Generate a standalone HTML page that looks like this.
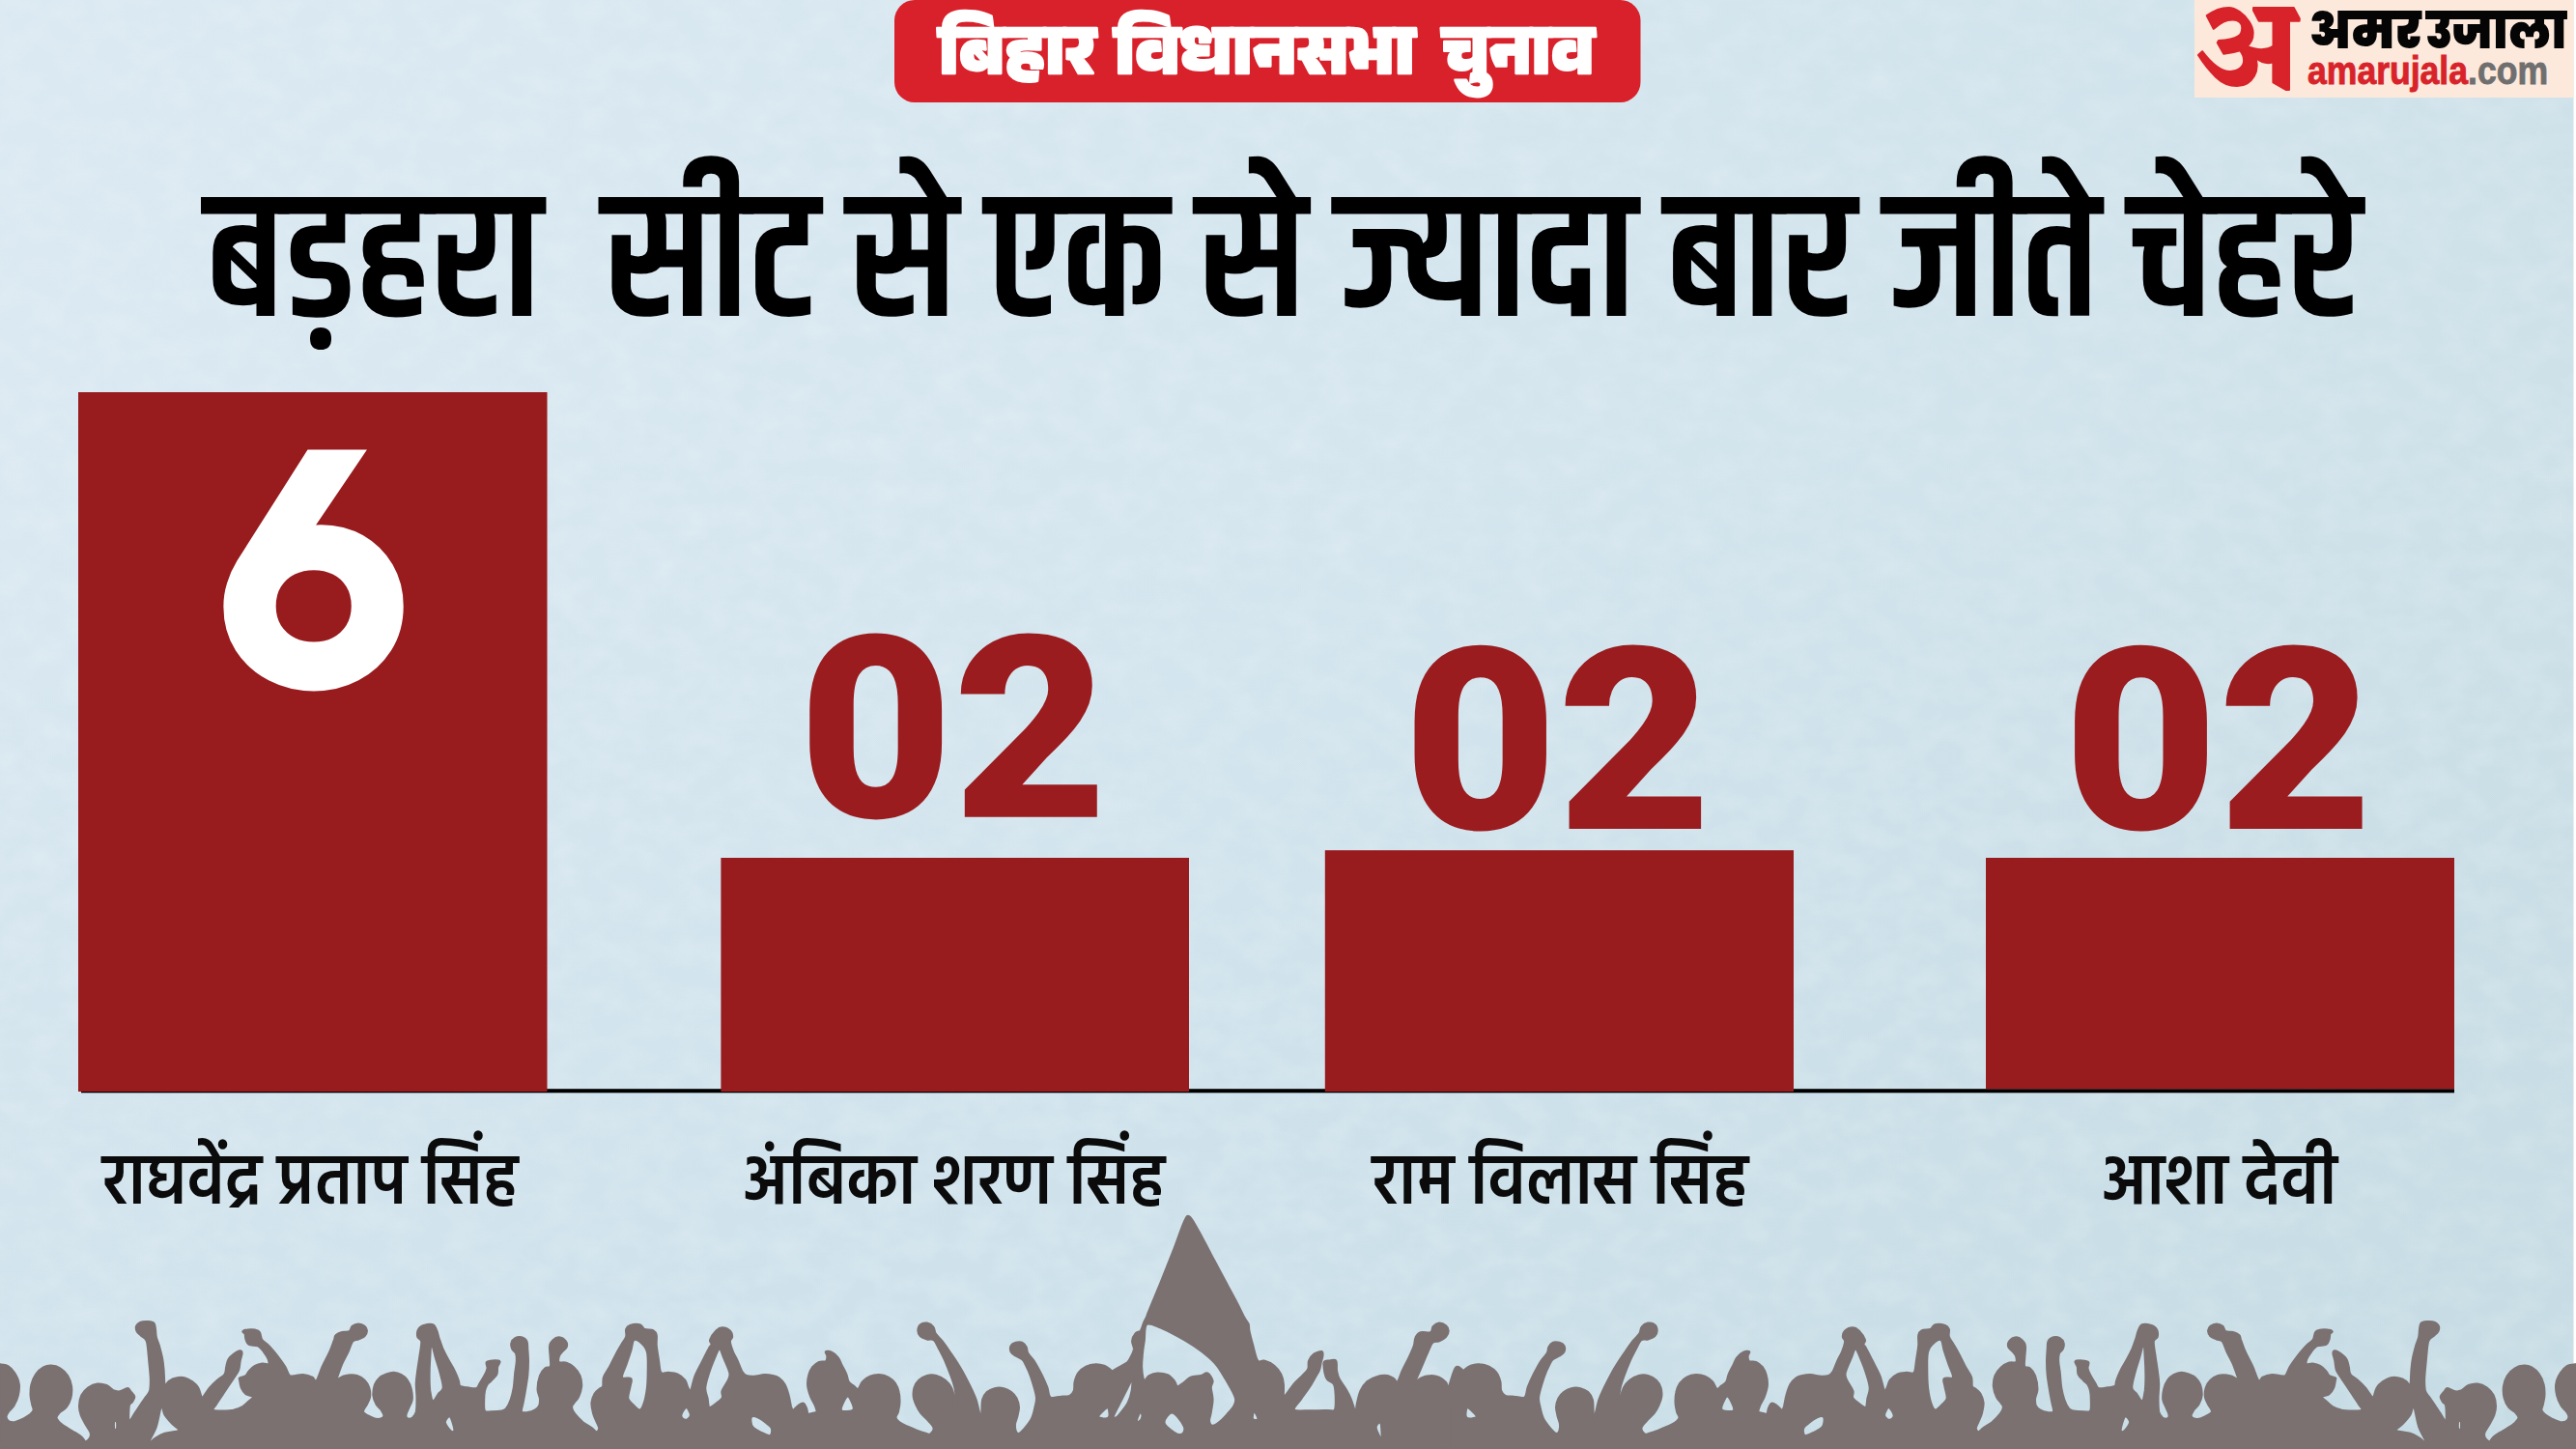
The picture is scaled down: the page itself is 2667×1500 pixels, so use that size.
<!DOCTYPE html>
<html lang="hi">
<head>
<meta charset="utf-8">
<title>बिहार विधानसभा चुनाव</title>
<style>
html,body{margin:0;padding:0;background:#d6e6ef;}
body{width:2667px;height:1500px;overflow:hidden;position:relative;}
svg{display:block;position:absolute;left:0;top:0;}
.dv-title{font-family:"Khand","Teko","Rajdhani","Noto Sans Devanagari","Lohit Devanagari","FreeSans","Liberation Sans","DejaVu Sans",sans-serif;font-weight:600;}
.dv-label{font-family:"Hind","Mukta","Ek Mukta","Noto Sans Devanagari","Lohit Devanagari","FreeSans","Liberation Sans","DejaVu Sans",sans-serif;font-weight:600;}
.dv-pill{font-family:"Anek Devanagari","Baloo 2","Mukta","Noto Sans Devanagari","Lohit Devanagari","FreeSans","Liberation Sans","DejaVu Sans",sans-serif;font-weight:800;font-stretch:75%;}
.dv-logo{font-family:"Poppins","Noto Sans Devanagari","Mukta","Noto Sans Devanagari","Lohit Devanagari","FreeSans","Liberation Sans","DejaVu Sans",sans-serif;font-weight:900;}
.dv-a{font-family:"Martel","Noto Serif Devanagari","Eczar","Noto Sans Devanagari","Lohit Devanagari","FreeSerif","Liberation Serif","DejaVu Serif",serif;font-weight:900;}
.lat{font-family:"Liberation Sans","DejaVu Sans",sans-serif;font-weight:700;}
.num{font-family:"Roboto","Liberation Sans","DejaVu Sans",sans-serif;font-weight:900;}
.six{font-family:"Hanken Grotesk","Albert Sans","Outfit","League Spartan","Liberation Sans","DejaVu Sans",sans-serif;font-weight:900;}
</style>
</head>
<body>
<svg width="2667" height="1500" viewBox="0 0 2667 1500">
<defs>
<linearGradient id="bg" gradientUnits="userSpaceOnUse" x1="0" y1="0" x2="2667" y2="900">
<stop offset="0" stop-color="#dbe9f2"/>
<stop offset="0.5" stop-color="#d5e6ef"/>
<stop offset="1" stop-color="#cde0e8"/>
</linearGradient>
<linearGradient id="bgv" gradientUnits="userSpaceOnUse" x1="0" y1="450" x2="0" y2="1500">
<stop offset="0" stop-color="#96becd" stop-opacity="0"/>
<stop offset="1" stop-color="#96becd" stop-opacity="0.125"/>
</linearGradient>
<filter id="paper" x="0" y="0" width="100%" height="100%" filterUnits="objectBoundingBox" color-interpolation-filters="sRGB">
<feTurbulence type="fractalNoise" baseFrequency="0.03 0.04" numOctaves="3" seed="7" result="n"/>
<feColorMatrix in="n" type="matrix" values="0 0 0 0 1  0 0 0 0 1  0 0 0 0 1  1.2 0 0 0 -0.42"/>
</filter>
</defs>
<!-- background -->
<rect x="0" y="0" width="2667" height="1500" fill="url(#bg)"/>
<rect x="0" y="0" width="2667" height="1500" fill="url(#bgv)"/>
<rect x="0" y="0" width="2667" height="1500" filter="url(#paper)" opacity="0.25"/>
<rect x="2664.5" y="0" width="2.5" height="1500" fill="#ffffff"/>

<!-- header pill -->
<g id="pill">
<rect x="926" y="0" width="772.5" height="106" rx="21" ry="21" fill="#d9212b"/>
<text class="dv-pill" x="972" y="75.5" font-size="73" fill="#ffffff" stroke="#ffffff" stroke-width="2.6" stroke-linejoin="round" textLength="162" lengthAdjust="spacingAndGlyphs">बिहार</text>
<text class="dv-pill" x="1154" y="75.5" font-size="73" fill="#ffffff" stroke="#ffffff" stroke-width="2.6" stroke-linejoin="round" textLength="311" lengthAdjust="spacingAndGlyphs">विधानसभा</text>
<text class="dv-pill" x="1493.5" y="75.5" font-size="73" fill="#ffffff" stroke="#ffffff" stroke-width="2.6" stroke-linejoin="round" textLength="157" lengthAdjust="spacingAndGlyphs">चुनाव</text>
</g>

<!-- logo -->
<g id="logo">
<rect x="2272" y="0" width="392.5" height="101" fill="#fde9dc"/>
<text class="dv-a" x="2274.2" y="87.9" font-size="119" fill="#d8232a" stroke="#d8232a" stroke-width="2.2" stroke-linejoin="round" textLength="106.4" lengthAdjust="spacingAndGlyphs">अ</text>
<text class="dv-logo" x="2390.6" y="49.9" font-size="52" fill="#050505" textLength="116.4" lengthAdjust="spacingAndGlyphs">अमर</text>
<text class="dv-logo" x="2511.5" y="49.9" font-size="52" fill="#050505" textLength="146" lengthAdjust="spacingAndGlyphs">उजाला</text>
<text class="lat" x="2389" y="87" font-size="40" fill="#d8232a" stroke="#d8232a" stroke-width="0.9" textLength="166" lengthAdjust="spacingAndGlyphs">amarujala</text>
<text class="lat" x="2555" y="87" font-size="40" fill="#6f6f6f" stroke="#6f6f6f" stroke-width="0.9" textLength="83" lengthAdjust="spacingAndGlyphs">.com</text>
</g>

<!-- title -->
<text id="title" class="dv-title" x="214" y="326.7" font-size="185" fill="#000000" textLength="2229" lengthAdjust="spacingAndGlyphs" xml:space="preserve">बड़हरा  सीट से एक से ज्यादा बार जीते चेहरे</text>

<!-- chart -->
<g id="chart">
<rect x="84" y="1127.2" width="2457" height="4.1" fill="#000000"/>
<rect x="81" y="406" width="485.5" height="724" fill="#981b1e"/>
<rect x="746.4" y="888" width="484.6" height="242" fill="#981b1e"/>
<rect x="1371.8" y="880.2" width="485.2" height="249.8" fill="#981b1e"/>
<rect x="2056" y="888" width="485" height="239.3" fill="#981b1e"/>
<text class="six" x="225.7" y="711.6" font-size="353" fill="#ffffff">6</text>
<text class="num" x="826.7" y="845.8" font-size="264" fill="#9a1c1f" textLength="320" lengthAdjust="spacingAndGlyphs">02</text>
<text class="num" x="1453" y="858" font-size="264" fill="#9a1c1f" textLength="319" lengthAdjust="spacingAndGlyphs">02</text>
<text class="num" x="2136.5" y="858" font-size="264" fill="#9a1c1f" textLength="320" lengthAdjust="spacingAndGlyphs">02</text>
</g>

<!-- labels -->
<g id="labels" fill="#0b0b0b">
<text class="dv-label" x="106.2" y="1245.8" font-size="74" textLength="429.8" lengthAdjust="spacingAndGlyphs">राघवेंद्र प्रताप सिंह</text>
<text class="dv-label" x="769.8" y="1245.8" font-size="74" textLength="436" lengthAdjust="spacingAndGlyphs">अंबिका शरण सिंह</text>
<text class="dv-label" x="1421" y="1245.8" font-size="74" textLength="388.6" lengthAdjust="spacingAndGlyphs">राम विलास सिंह</text>
<text class="dv-label" x="2176.6" y="1245.8" font-size="74" textLength="243" lengthAdjust="spacingAndGlyphs">आशा देवी</text>
</g>

<!-- crowd -->
<g id="crowd" fill="#7b7171" stroke="#7b7171" stroke-width="2.6" stroke-linejoin="round">
<path fill-rule="evenodd" d="M0.0 1412.6C1.3 1412.8 5.3 1412.7 7.8 1414.1C10.2 1415.6 12.8 1418.1 14.8 1421.1C16.7 1424.1 18.8 1428.1 19.4 1432.0C20.1 1435.9 19.5 1440.5 18.6 1444.4C17.7 1448.3 15.7 1452.4 14.0 1455.3C12.3 1458.1 9.8 1459.5 8.5 1461.5C7.2 1463.4 6.1 1465.2 6.2 1466.9C6.3 1468.6 7.8 1470.7 9.3 1471.6C10.9 1472.5 13.2 1472.7 15.5 1472.4C17.9 1472.0 20.7 1470.5 23.3 1469.3C25.9 1468.0 29.1 1466.1 31.1 1464.6C33.0 1463.0 34.5 1461.7 34.9 1459.9C35.3 1458.1 33.9 1456.3 33.4 1453.7C32.9 1451.1 32.0 1447.8 31.8 1444.4C31.7 1441.0 31.7 1437.2 32.6 1433.5C33.5 1429.9 35.2 1425.6 37.3 1422.7C39.3 1419.7 42.4 1417.2 45.0 1415.7C47.6 1414.2 49.9 1413.7 52.8 1413.8C55.6 1413.9 59.3 1414.7 62.1 1416.5C65.0 1418.2 67.9 1421.1 69.9 1424.2C71.8 1427.3 73.2 1431.2 73.8 1435.1C74.3 1439.0 73.9 1443.9 73.0 1447.5C72.1 1451.1 70.3 1454.4 68.3 1456.8C66.4 1459.3 63.0 1460.5 61.3 1462.3C59.7 1464.1 58.1 1465.9 58.2 1467.7C58.4 1469.5 60.2 1471.3 62.1 1473.1C64.1 1474.9 67.3 1476.9 69.9 1478.6C72.5 1480.3 75.2 1481.7 77.6 1483.2C80.1 1484.8 82.8 1486.3 84.6 1487.9C86.4 1489.4 87.1 1492.4 88.5 1492.5C89.9 1492.7 92.3 1490.2 93.2 1488.7C94.1 1487.1 94.7 1485.7 93.9 1483.2C93.2 1480.8 90.2 1477.0 88.5 1473.9C86.8 1470.8 84.9 1467.7 83.9 1464.6C82.8 1461.5 82.2 1458.6 82.3 1455.3C82.4 1451.9 83.1 1447.5 84.6 1444.4C86.2 1441.3 88.9 1438.6 91.6 1436.6C94.3 1434.7 97.8 1433.2 100.9 1432.8C104.0 1432.4 107.4 1433.2 110.2 1434.3C113.1 1435.5 115.7 1438.7 118.0 1439.8C120.3 1440.8 121.9 1440.9 124.2 1440.5C126.6 1440.1 130.2 1437.4 132.0 1437.4C133.8 1437.4 133.9 1439.1 135.1 1440.5C136.3 1442.0 138.7 1444.2 139.0 1446.0C139.2 1447.8 137.6 1449.8 136.6 1451.4C135.7 1453.0 134.1 1451.9 133.5 1455.3C133.0 1458.6 132.5 1470.3 133.5 1471.6C134.6 1472.9 137.7 1466.0 139.8 1463.0C141.8 1460.1 144.0 1456.6 146.0 1453.7C147.9 1450.9 149.8 1448.3 151.4 1446.0C153.0 1443.6 154.5 1442.9 155.3 1439.8C156.1 1436.6 156.2 1432.5 156.1 1427.3C155.9 1422.2 155.0 1414.4 154.5 1408.7C154.0 1403.0 153.5 1396.8 153.0 1393.2C152.4 1389.5 152.6 1388.8 151.4 1387.0C150.2 1385.1 147.5 1383.7 146.0 1382.3C144.4 1380.9 142.9 1380.0 142.1 1378.4C141.3 1376.9 140.8 1374.5 141.3 1373.0C141.8 1371.4 143.2 1369.9 145.2 1369.1C147.1 1368.3 150.6 1368.2 153.0 1368.3C155.3 1368.5 157.9 1368.6 159.2 1369.9C160.5 1371.2 160.3 1373.8 160.7 1376.1C161.1 1378.4 160.8 1381.0 161.5 1383.9C162.1 1386.7 163.6 1389.5 164.6 1393.2C165.6 1396.8 166.9 1401.4 167.7 1405.6C168.5 1409.7 168.9 1413.6 169.3 1418.0C169.6 1422.4 169.8 1429.1 170.0 1432.0C170.3 1434.8 169.9 1435.5 170.8 1435.1C171.7 1434.7 173.4 1431.1 175.5 1429.7C177.5 1428.2 180.6 1427.1 183.2 1426.6C185.8 1426.0 188.4 1425.9 191.0 1426.6C193.6 1427.2 196.4 1428.8 198.8 1430.4C201.1 1432.1 203.4 1434.1 205.0 1436.6C206.5 1439.2 207.4 1444.0 208.1 1446.0C208.7 1447.9 207.3 1449.8 208.9 1448.3C210.4 1446.7 214.7 1439.9 217.4 1436.6C220.1 1433.4 222.6 1431.2 225.2 1428.9C227.7 1426.6 231.4 1425.0 232.9 1422.7C234.5 1420.3 233.8 1417.5 234.5 1414.9C235.1 1412.3 235.5 1409.3 236.8 1407.1C238.1 1404.9 240.3 1403.1 242.2 1401.7C244.2 1400.3 247.1 1398.7 248.4 1398.6C249.8 1398.5 250.3 1399.2 250.3 1400.9C250.3 1402.6 249.0 1405.8 248.4 1408.7C247.9 1411.5 247.9 1415.2 246.9 1418.0C245.9 1420.9 244.0 1422.9 242.2 1425.8C240.4 1428.6 238.1 1432.0 236.0 1435.1C234.0 1438.2 231.9 1441.3 229.8 1444.4C227.7 1447.5 225.2 1451.1 223.6 1453.7C222.0 1456.3 219.5 1458.8 220.5 1459.9C221.5 1461.1 226.2 1460.7 229.8 1460.7C233.4 1460.7 238.6 1460.7 242.2 1459.9C245.9 1459.2 249.0 1457.6 251.6 1456.1C254.1 1454.5 256.0 1452.3 257.8 1450.6C259.6 1448.9 262.9 1447.3 262.4 1446.0C261.9 1444.7 256.7 1444.4 254.7 1442.9C252.6 1441.3 251.0 1439.0 250.0 1436.6C249.0 1434.3 248.7 1430.6 248.4 1428.9C248.2 1427.2 247.4 1427.3 248.4 1426.6C249.5 1425.8 253.1 1425.4 254.7 1424.2C256.2 1423.1 256.2 1421.2 257.8 1419.6C259.3 1417.9 261.6 1415.4 264.0 1414.1C266.3 1412.8 269.4 1412.1 271.7 1411.8C274.1 1411.5 276.9 1413.4 278.0 1412.6C279.0 1411.8 278.7 1409.3 278.0 1407.1C277.2 1404.9 275.1 1401.7 273.3 1399.4C271.5 1397.0 269.7 1394.5 267.1 1393.2C264.5 1391.9 259.8 1392.8 257.8 1391.6C255.7 1390.5 255.3 1388.0 254.7 1386.2C254.0 1384.4 254.4 1382.0 253.9 1380.7C253.4 1379.5 251.2 1379.1 251.6 1378.4C251.9 1377.8 254.1 1377.1 256.2 1376.9C258.3 1376.6 261.9 1376.5 264.0 1376.9C266.0 1377.3 267.5 1377.5 268.6 1379.2C269.8 1380.9 269.4 1384.6 271.0 1387.0C272.5 1389.3 275.2 1390.3 278.0 1393.2C280.7 1396.0 284.4 1400.4 287.3 1404.0C290.1 1407.7 293.0 1411.5 295.0 1414.9C297.1 1418.3 297.9 1422.7 299.7 1424.2C301.5 1425.8 303.6 1424.4 305.9 1424.2C308.2 1424.1 310.8 1423.2 313.7 1423.4C316.5 1423.7 320.7 1424.7 323.0 1425.8C325.3 1426.8 325.8 1431.5 327.6 1429.7C329.5 1427.8 331.5 1420.0 333.9 1414.9C336.2 1409.9 339.5 1404.0 341.6 1399.4C343.7 1394.7 345.2 1389.8 346.3 1387.0C347.3 1384.1 346.5 1383.6 347.8 1382.3C349.1 1381.0 351.7 1379.8 354.0 1379.2C356.4 1378.5 360.0 1379.5 361.8 1378.4C363.6 1377.4 363.4 1374.3 364.9 1373.0C366.5 1371.7 369.0 1370.7 371.1 1370.7C373.2 1370.7 375.9 1371.8 377.3 1373.0C378.8 1374.1 379.7 1376.0 379.7 1377.6C379.7 1379.3 378.8 1381.7 377.3 1383.1C375.9 1384.5 373.2 1385.3 371.1 1386.2C369.0 1387.1 366.7 1386.3 364.9 1388.5C363.1 1390.7 362.1 1395.5 360.2 1399.4C358.4 1403.3 355.8 1407.7 354.0 1411.8C352.2 1415.9 350.8 1420.6 349.4 1424.2C348.0 1427.8 345.2 1433.0 345.5 1433.5C345.8 1434.1 348.5 1429.0 350.9 1427.3C353.4 1425.7 357.1 1424.3 360.2 1423.8C363.4 1423.2 366.7 1423.4 369.6 1424.2C372.4 1425.1 375.3 1426.8 377.3 1428.9C379.4 1431.0 381.1 1433.8 382.0 1436.6C382.9 1439.5 383.2 1443.1 382.8 1446.0C382.4 1448.8 380.8 1451.1 379.7 1453.7C378.5 1456.3 375.1 1459.3 375.8 1461.5C376.4 1463.7 381.0 1465.6 383.5 1466.9C386.1 1468.2 389.0 1469.4 391.3 1469.3C393.6 1469.1 396.9 1467.7 397.5 1466.1C398.2 1464.6 396.5 1462.0 395.2 1459.9C393.9 1457.9 391.2 1456.3 389.8 1453.7C388.3 1451.1 386.9 1447.8 386.6 1444.4C386.4 1441.0 387.2 1436.5 388.2 1433.5C389.2 1430.6 390.9 1428.4 392.9 1426.6C394.8 1424.7 397.5 1423.6 400.0 1422.7C402.5 1421.8 405.2 1421.0 407.8 1421.1C410.4 1421.2 413.2 1422.2 415.5 1423.4C417.9 1424.7 420.1 1426.4 421.7 1428.9C423.4 1431.3 424.8 1434.8 425.6 1438.2C426.4 1441.6 426.8 1446.0 426.4 1449.1C426.0 1452.2 424.3 1454.2 423.3 1456.8C422.3 1459.4 420.4 1462.7 420.2 1464.6C419.9 1466.5 420.6 1468.0 421.7 1468.5C422.9 1469.0 425.6 1468.9 427.2 1467.7C428.7 1466.5 430.3 1464.9 431.1 1461.5C431.8 1458.1 431.8 1452.4 431.8 1447.5C431.8 1442.6 430.9 1436.9 431.1 1432.0C431.2 1427.1 432.0 1422.9 432.6 1418.0C433.3 1413.1 434.3 1407.4 434.9 1402.5C435.6 1397.6 436.9 1391.6 436.5 1388.5C436.1 1385.4 433.1 1385.9 432.6 1383.9C432.1 1381.8 432.3 1378.0 433.4 1376.1C434.4 1374.1 436.4 1373.0 438.8 1372.2C441.3 1371.4 445.9 1370.5 448.1 1371.4C450.3 1372.3 451.0 1375.3 452.0 1377.6C453.1 1380.0 453.3 1382.3 454.3 1385.4C455.4 1388.5 456.7 1392.7 458.2 1396.3C459.8 1399.9 461.7 1403.5 463.7 1407.1C465.6 1410.8 468.1 1414.4 469.9 1418.0C471.7 1421.6 473.5 1426.0 474.5 1428.9C475.6 1431.7 474.5 1433.8 476.1 1435.1C477.6 1436.4 481.0 1436.3 483.9 1436.6C486.7 1437.0 491.0 1438.2 493.2 1437.4C495.4 1436.6 495.5 1434.4 497.0 1432.0C498.6 1429.5 501.2 1425.3 502.5 1422.7C503.8 1420.1 504.6 1418.5 504.8 1416.5C505.1 1414.4 503.1 1411.5 504.0 1410.2C504.9 1409.0 508.0 1408.8 510.2 1408.7C512.4 1408.6 516.5 1408.4 517.2 1409.5C518.0 1410.5 515.4 1412.7 514.9 1414.9C514.4 1417.1 515.2 1420.3 514.1 1422.7C513.1 1425.0 510.4 1427.1 508.7 1428.9C507.0 1430.7 505.2 1431.7 504.0 1433.5C502.9 1435.4 502.2 1437.2 501.7 1439.8C501.2 1442.3 500.9 1445.6 500.9 1449.1C500.9 1452.6 500.4 1458.6 501.7 1460.7C503.0 1462.8 505.7 1461.5 508.7 1461.5C511.7 1461.5 517.0 1461.2 519.6 1460.7C522.2 1460.2 522.7 1460.3 524.2 1458.4C525.8 1456.4 527.6 1452.7 528.9 1449.1C530.2 1445.4 531.2 1441.3 532.0 1436.6C532.8 1432.0 533.0 1425.8 533.5 1421.1C534.1 1416.5 535.0 1412.1 535.1 1408.7C535.2 1405.3 535.1 1403.0 534.3 1400.9C533.5 1398.9 531.2 1398.1 530.4 1396.3C529.7 1394.5 529.1 1391.9 529.7 1390.1C530.2 1388.3 531.9 1386.3 533.5 1385.4C535.2 1384.5 537.8 1384.1 539.8 1384.6C541.7 1385.1 544.2 1386.6 545.2 1388.5C546.2 1390.5 545.7 1392.9 546.0 1396.3C546.2 1399.6 546.7 1404.0 546.7 1408.7C546.7 1413.4 546.5 1419.0 546.0 1424.2C545.4 1429.4 544.4 1435.1 543.6 1439.8C542.9 1444.4 542.0 1448.6 541.3 1452.2C540.7 1455.8 539.0 1459.8 539.8 1461.5C540.5 1463.2 543.6 1462.5 546.0 1462.3C548.3 1462.0 551.7 1461.1 553.7 1459.9C555.8 1458.8 557.5 1457.3 558.4 1455.3C559.3 1453.2 559.4 1450.4 559.2 1447.5C558.9 1444.7 556.8 1442.1 556.8 1438.2C556.8 1434.3 557.9 1427.8 559.2 1424.2C560.5 1420.6 562.8 1418.0 564.6 1416.5C566.4 1414.9 569.1 1416.7 570.0 1414.9C570.9 1413.1 570.2 1409.2 570.0 1405.6C569.9 1402.0 568.9 1396.1 569.3 1393.2C569.6 1390.2 570.8 1389.2 572.4 1387.7C573.9 1386.3 576.4 1384.5 578.6 1384.6C580.8 1384.8 584.3 1386.8 585.6 1388.5C586.9 1390.2 587.0 1392.9 586.3 1394.7C585.7 1396.5 583.0 1397.8 581.7 1399.4C580.4 1400.9 579.1 1402.2 578.6 1404.0C578.1 1405.8 577.3 1409.1 578.6 1410.2C579.9 1411.4 583.7 1410.1 586.3 1411.0C588.9 1411.9 591.8 1413.5 594.1 1415.7C596.4 1417.9 599.0 1421.0 600.3 1424.2C601.6 1427.5 602.1 1431.5 601.9 1435.1C601.6 1438.7 600.1 1443.1 598.8 1446.0C597.5 1448.8 595.3 1450.4 594.1 1452.2C592.9 1454.0 591.5 1454.8 591.8 1456.8C592.0 1458.9 593.7 1462.0 595.7 1464.6C597.6 1467.2 600.6 1470.0 603.4 1472.4C606.3 1474.7 610.4 1476.9 612.7 1478.6C615.1 1480.3 616.1 1482.5 617.4 1482.5C618.7 1482.5 620.5 1480.5 620.5 1478.6C620.5 1476.6 618.4 1473.4 617.4 1470.8C616.4 1468.2 615.1 1466.1 614.3 1463.0C613.5 1459.9 612.5 1455.5 612.7 1452.2C613.0 1448.8 614.5 1445.2 615.8 1442.9C617.1 1440.5 619.1 1439.5 620.5 1438.2C621.9 1436.9 623.6 1437.2 624.4 1435.1C625.2 1433.0 624.0 1429.1 625.2 1425.8C626.3 1422.4 629.3 1418.8 631.4 1414.9C633.4 1411.0 635.5 1406.4 637.6 1402.5C639.6 1398.6 642.0 1394.7 643.8 1391.6C645.6 1388.5 647.7 1386.4 648.4 1383.9C649.2 1381.3 647.8 1378.0 648.4 1376.1C649.1 1374.1 650.0 1373.0 652.3 1372.2C654.7 1371.4 660.0 1370.8 662.4 1371.4C664.9 1372.1 664.8 1375.1 667.1 1376.1C669.4 1377.1 674.3 1376.6 676.4 1377.6C678.5 1378.7 679.0 1379.7 679.5 1382.3C680.0 1384.9 679.1 1388.8 679.5 1393.2C679.9 1397.6 681.1 1404.0 681.8 1408.7C682.6 1413.4 682.5 1419.0 684.2 1421.1C685.8 1423.2 689.1 1420.9 691.9 1421.1C694.8 1421.4 698.4 1421.4 701.2 1422.7C704.1 1424.0 707.2 1426.6 709.0 1428.9C710.8 1431.2 711.1 1434.8 712.1 1436.6C713.1 1438.5 713.9 1441.8 715.2 1439.8C716.5 1437.7 717.8 1429.4 719.9 1424.2C721.9 1419.0 725.3 1413.4 727.6 1408.7C730.0 1404.0 732.3 1399.1 733.9 1396.3C735.4 1393.4 736.7 1393.2 737.0 1391.6C737.2 1390.1 734.6 1389.3 735.4 1387.0C736.2 1384.6 739.5 1379.7 741.6 1377.6C743.7 1375.6 745.5 1374.5 747.8 1374.5C750.2 1374.5 753.9 1376.1 755.6 1377.6C757.3 1379.2 757.9 1382.0 757.9 1383.9C757.9 1385.7 755.5 1385.9 755.6 1388.5C755.7 1391.1 757.4 1396.0 758.7 1399.4C760.0 1402.7 761.8 1405.3 763.4 1408.7C764.9 1412.1 766.5 1417.0 768.0 1419.6C769.6 1422.2 770.6 1423.3 772.7 1424.2C774.7 1425.1 777.3 1425.1 780.4 1425.0C783.5 1424.9 788.0 1423.6 791.3 1423.4C794.6 1423.3 797.5 1423.7 800.0 1424.2C802.5 1424.7 804.1 1425.0 806.2 1426.6C808.3 1428.1 810.7 1430.6 812.4 1433.5C814.1 1436.5 815.3 1440.8 816.3 1444.4C817.3 1448.0 817.9 1452.7 818.6 1455.3C819.4 1457.9 819.7 1459.9 821.0 1459.9C822.3 1459.9 824.6 1456.4 826.4 1455.3C828.2 1454.1 830.4 1452.4 831.8 1453.0C833.3 1453.5 834.2 1456.6 834.9 1458.4C835.7 1460.2 835.3 1463.0 836.5 1463.8C837.7 1464.6 840.4 1463.4 841.9 1463.0C843.5 1462.7 845.4 1462.8 845.8 1461.5C846.2 1460.2 845.3 1457.9 844.3 1455.3C843.2 1452.7 840.9 1449.3 839.6 1446.0C838.3 1442.6 836.9 1438.7 836.5 1435.1C836.1 1431.5 836.5 1427.5 837.3 1424.2C838.0 1421.0 839.3 1418.0 841.1 1415.7C843.0 1413.4 845.8 1411.3 848.1 1410.2C850.5 1409.2 853.7 1410.5 855.1 1409.5C856.5 1408.4 856.7 1405.7 856.7 1404.0C856.7 1402.4 854.3 1400.0 855.1 1399.4C855.9 1398.7 859.3 1399.1 861.3 1400.2C863.4 1401.2 865.9 1403.4 867.5 1405.6C869.2 1407.8 870.0 1410.5 871.4 1413.4C872.9 1416.2 874.9 1419.8 876.1 1422.7C877.3 1425.5 877.1 1428.4 878.4 1430.4C879.7 1432.5 882.2 1433.8 883.9 1435.1C885.5 1436.4 887.0 1439.0 888.5 1438.2C890.1 1437.4 891.1 1432.6 893.2 1430.4C895.2 1428.2 898.1 1426.2 900.9 1425.0C903.8 1423.8 907.1 1423.3 910.2 1423.4C913.4 1423.6 916.8 1424.4 919.6 1425.8C922.3 1427.2 924.7 1429.4 926.6 1432.0C928.4 1434.6 929.7 1437.9 930.4 1441.3C931.2 1444.7 931.3 1448.8 931.2 1452.2C931.1 1455.5 930.3 1458.9 929.7 1461.5C929.0 1464.1 926.9 1465.8 927.3 1467.7C927.7 1469.6 929.9 1471.6 932.0 1473.1C934.1 1474.7 936.9 1475.7 939.8 1477.0C942.6 1478.3 946.0 1479.7 949.1 1480.9C952.2 1482.1 956.1 1483.4 958.4 1484.0C960.7 1484.7 961.6 1485.7 963.0 1484.8C964.5 1483.9 967.2 1480.9 966.9 1478.6C966.7 1476.2 963.7 1473.4 961.5 1470.8C959.3 1468.2 955.8 1465.6 953.7 1463.0C951.7 1460.5 950.4 1458.1 949.1 1455.3C947.8 1452.4 946.4 1449.1 946.0 1446.0C945.6 1442.9 945.8 1439.5 946.7 1436.6C947.6 1433.8 949.2 1431.0 951.4 1428.9C953.6 1426.8 957.0 1425.0 959.9 1424.2C962.9 1423.4 966.1 1423.4 969.3 1424.2C972.4 1425.0 976.0 1426.8 978.6 1428.9C981.2 1431.0 983.2 1433.5 984.8 1436.6C986.3 1439.8 987.2 1443.6 987.9 1447.5C988.5 1451.4 988.3 1457.6 988.7 1459.9C989.1 1462.3 990.0 1463.3 990.2 1461.5C990.5 1459.7 990.5 1453.2 990.2 1449.1C990.0 1444.9 989.6 1440.8 988.7 1436.6C987.8 1432.5 986.5 1428.9 984.8 1424.2C983.1 1419.6 980.6 1413.4 978.6 1408.7C976.5 1404.0 974.3 1399.9 972.4 1396.3C970.4 1392.7 969.0 1388.6 966.9 1387.0C964.9 1385.3 962.3 1386.8 959.9 1386.2C957.6 1385.5 954.5 1384.5 953.0 1383.1C951.4 1381.7 950.6 1379.6 950.6 1377.6C950.6 1375.7 951.4 1372.7 953.0 1371.4C954.5 1370.1 957.7 1369.5 959.9 1369.9C962.1 1370.3 964.7 1371.9 966.1 1373.8C967.6 1375.6 966.9 1378.3 968.5 1380.7C970.0 1383.2 973.0 1385.4 975.5 1388.5C977.9 1391.6 980.4 1395.2 983.2 1399.4C986.1 1403.5 989.7 1408.7 992.5 1413.4C995.4 1418.0 998.0 1422.9 1000.3 1427.3C1002.6 1431.7 1004.8 1436.1 1006.5 1439.8C1008.2 1443.4 1009.2 1445.4 1010.4 1449.1C1011.6 1452.7 1012.6 1457.9 1013.5 1461.5C1014.4 1465.1 1015.3 1470.8 1015.8 1470.8C1016.4 1470.8 1016.4 1465.1 1016.6 1461.5C1016.9 1457.9 1016.5 1452.4 1017.4 1449.1C1018.3 1445.7 1020.0 1443.2 1022.0 1441.3C1024.1 1439.4 1027.0 1438.1 1029.8 1437.4C1032.7 1436.8 1036.3 1436.8 1039.1 1437.4C1042.0 1438.1 1044.7 1439.6 1046.9 1441.3C1049.1 1443.0 1051.0 1444.9 1052.3 1447.5C1053.6 1450.1 1054.5 1453.7 1054.7 1456.8C1054.8 1459.9 1053.8 1463.3 1053.1 1466.1C1052.5 1469.0 1051.0 1471.3 1050.8 1473.9C1050.5 1476.5 1050.8 1480.0 1051.6 1481.7C1052.3 1483.4 1053.6 1484.8 1055.4 1484.0C1057.2 1483.2 1060.2 1479.7 1062.4 1477.0C1064.6 1474.3 1067.1 1471.1 1068.6 1467.7C1070.2 1464.3 1071.0 1460.2 1071.7 1456.8C1072.5 1453.5 1073.4 1450.9 1073.3 1447.5C1073.2 1444.2 1072.0 1440.5 1071.0 1436.6C1069.9 1432.8 1068.5 1428.1 1067.1 1424.2C1065.7 1420.3 1063.8 1416.2 1062.4 1413.4C1061.0 1410.5 1060.4 1408.8 1058.5 1407.1C1056.7 1405.5 1053.5 1404.6 1051.6 1403.3C1049.6 1402.0 1047.7 1401.1 1046.9 1399.4C1046.1 1397.7 1046.1 1394.7 1046.9 1393.2C1047.7 1391.6 1049.6 1390.6 1051.6 1390.1C1053.5 1389.5 1056.7 1389.3 1058.5 1390.1C1060.4 1390.8 1061.5 1392.9 1062.4 1394.7C1063.3 1396.5 1062.7 1398.6 1064.0 1400.9C1065.3 1403.3 1067.9 1405.1 1070.2 1408.7C1072.5 1412.3 1075.6 1418.0 1078.0 1422.7C1080.3 1427.3 1082.6 1432.6 1084.2 1436.6C1085.7 1440.7 1084.9 1445.2 1087.3 1446.7C1089.6 1448.3 1094.8 1446.2 1098.1 1446.0C1101.5 1445.7 1105.1 1446.2 1107.5 1445.2C1109.8 1444.2 1111.2 1442.2 1112.1 1439.8C1113.0 1437.3 1112.1 1433.5 1112.9 1430.4C1113.7 1427.3 1114.8 1423.7 1116.8 1421.1C1118.7 1418.5 1121.7 1416.3 1124.5 1414.9C1127.4 1413.5 1130.7 1412.7 1133.9 1412.6C1137.0 1412.4 1140.6 1413.2 1143.2 1414.1C1145.8 1415.0 1147.8 1416.7 1149.4 1418.0C1150.9 1419.3 1152.4 1421.4 1152.5 1421.9C1152.6 1422.4 1149.0 1421.9 1150.0 1420.8C1151.0 1419.8 1155.8 1417.4 1158.6 1415.7C1161.5 1413.9 1165.2 1412.2 1167.3 1410.5C1169.3 1408.8 1169.6 1407.6 1170.7 1405.3C1171.9 1403.0 1173.9 1399.6 1174.2 1396.7C1174.4 1393.8 1172.1 1390.8 1172.4 1388.1C1172.7 1385.3 1174.4 1382.0 1175.9 1380.3C1177.3 1378.6 1179.6 1379.6 1181.1 1377.7C1182.5 1375.8 1183.5 1371.4 1184.5 1369.1C1185.5 1366.8 1186.2 1365.9 1187.1 1363.9C1188.0 1361.9 1187.2 1363.0 1189.7 1357.0C1192.1 1350.9 1197.5 1338.3 1201.8 1327.7C1206.1 1317.0 1211.5 1303.5 1215.6 1293.1C1219.6 1282.8 1223.3 1271.1 1225.9 1265.5C1228.5 1259.9 1228.8 1258.3 1231.1 1259.5C1233.4 1260.6 1236.0 1266.0 1239.7 1272.4C1243.5 1278.9 1248.9 1289.7 1253.5 1298.3C1258.1 1306.9 1263.0 1316.1 1267.3 1324.2C1271.7 1332.3 1276.0 1340.0 1279.4 1346.6C1282.9 1353.2 1285.9 1359.9 1288.1 1363.9C1290.2 1367.9 1291.5 1368.5 1292.4 1370.8C1293.2 1373.1 1292.5 1374.2 1293.2 1377.7C1293.9 1381.1 1295.2 1386.3 1296.7 1391.5C1298.1 1396.7 1299.8 1405.9 1301.9 1408.8C1303.9 1411.6 1305.9 1407.9 1308.8 1408.8C1311.6 1409.6 1316.2 1411.6 1319.1 1413.9C1322.0 1416.2 1324.4 1419.4 1326.0 1422.6C1327.6 1425.7 1328.2 1429.2 1328.6 1432.9C1329.0 1436.7 1328.5 1442.7 1328.6 1445.0C1328.7 1447.3 1327.6 1448.7 1329.5 1446.7C1331.3 1444.7 1336.7 1436.7 1339.8 1432.9C1343.0 1429.2 1346.0 1426.9 1348.4 1424.3C1350.9 1421.7 1353.3 1420.0 1354.5 1417.4C1355.6 1414.8 1354.3 1411.3 1355.3 1408.8C1356.4 1406.2 1358.4 1403.4 1360.5 1401.9C1362.7 1400.3 1366.9 1399.0 1368.3 1399.3C1369.7 1399.6 1369.3 1401.7 1369.2 1403.6C1369.0 1405.5 1368.0 1408.0 1367.4 1410.5C1366.9 1412.9 1366.7 1415.7 1365.7 1418.2C1364.7 1420.8 1363.1 1423.0 1361.4 1426.0C1359.7 1429.0 1357.8 1432.6 1355.3 1436.4C1352.9 1440.1 1349.3 1444.6 1346.7 1448.4C1344.1 1452.3 1338.1 1457.7 1339.8 1459.7C1341.5 1461.7 1351.3 1460.4 1357.1 1460.5C1362.8 1460.6 1370.2 1460.3 1374.3 1460.2C1378.5 1460.0 1380.7 1462.2 1382.1 1459.7C1383.5 1457.1 1383.1 1449.5 1383.0 1445.0C1382.8 1440.5 1382.7 1435.8 1381.2 1432.9C1379.8 1430.0 1375.9 1429.8 1374.3 1427.7C1372.7 1425.7 1372.3 1423.7 1371.7 1420.8C1371.2 1418.0 1370.2 1412.5 1370.9 1410.5C1371.6 1408.5 1374.0 1409.0 1376.1 1408.8C1378.1 1408.5 1381.7 1407.0 1383.0 1408.8C1384.3 1410.5 1383.2 1415.9 1383.8 1419.1C1384.4 1422.3 1384.8 1424.6 1386.4 1427.7C1388.0 1430.9 1391.3 1434.6 1393.3 1438.1C1395.3 1441.5 1397.1 1445.0 1398.5 1448.4C1399.9 1451.9 1401.1 1456.5 1401.9 1458.8C1402.8 1461.1 1403.1 1463.4 1403.7 1462.3C1404.2 1461.1 1404.5 1455.6 1405.4 1451.9C1406.3 1448.2 1407.1 1443.4 1408.8 1439.8C1410.6 1436.2 1412.9 1432.8 1415.7 1430.3C1418.6 1427.9 1422.6 1426.2 1426.1 1425.2C1429.6 1424.1 1433.6 1423.9 1436.5 1424.3C1439.3 1424.7 1441.6 1426.6 1443.4 1427.7C1445.1 1428.9 1445.4 1432.6 1446.8 1431.2C1448.2 1429.8 1450.0 1423.4 1452.0 1419.1C1454.0 1414.8 1456.9 1409.6 1458.9 1405.3C1460.9 1401.0 1462.9 1396.7 1464.1 1393.2C1465.2 1389.8 1464.6 1386.9 1465.8 1384.6C1466.9 1382.3 1468.4 1380.3 1471.0 1379.4C1473.6 1378.6 1479.2 1380.4 1481.3 1379.4C1483.5 1378.4 1482.5 1375.0 1483.9 1373.4C1485.3 1371.8 1487.8 1370.1 1489.9 1369.9C1492.1 1369.8 1495.3 1371.2 1496.9 1372.5C1498.4 1373.8 1499.4 1375.8 1499.4 1377.7C1499.4 1379.6 1498.4 1382.0 1496.9 1383.7C1495.3 1385.5 1492.2 1387.0 1489.9 1388.1C1487.6 1389.1 1485.1 1387.8 1483.0 1389.8C1481.0 1391.8 1479.6 1396.4 1477.9 1400.1C1476.1 1403.9 1474.4 1408.2 1472.7 1412.2C1471.0 1416.2 1469.0 1420.8 1467.5 1424.3C1466.1 1427.7 1463.5 1432.5 1464.1 1432.9C1464.6 1433.3 1468.1 1428.3 1471.0 1426.9C1473.8 1425.4 1478.2 1424.4 1481.3 1424.3C1484.5 1424.1 1487.4 1424.9 1489.9 1426.0C1492.5 1427.2 1495.2 1429.5 1496.9 1431.2C1498.5 1432.9 1498.0 1439.0 1499.8 1436.4C1501.5 1433.8 1504.7 1418.2 1507.4 1415.7C1510.1 1413.1 1515.0 1419.8 1516.0 1420.8C1517.0 1421.9 1513.4 1422.4 1513.5 1421.9C1513.6 1421.4 1515.1 1419.3 1516.6 1418.0C1518.2 1416.7 1520.2 1415.0 1522.8 1414.1C1525.4 1413.2 1529.0 1412.4 1532.1 1412.6C1535.3 1412.7 1538.6 1413.5 1541.5 1414.9C1544.3 1416.3 1547.3 1418.5 1549.2 1421.1C1551.2 1423.7 1552.3 1427.3 1553.1 1430.4C1553.9 1433.5 1553.0 1437.3 1553.9 1439.8C1554.8 1442.2 1556.2 1444.2 1558.5 1445.2C1560.9 1446.2 1564.5 1445.7 1567.9 1446.0C1571.2 1446.2 1576.4 1448.3 1578.7 1446.7C1581.1 1445.2 1580.3 1440.7 1581.8 1436.6C1583.4 1432.6 1585.7 1427.3 1588.0 1422.7C1590.4 1418.0 1593.5 1412.3 1595.8 1408.7C1598.1 1405.1 1600.7 1403.3 1602.0 1400.9C1603.3 1398.6 1602.7 1396.5 1603.6 1394.7C1604.5 1392.9 1605.6 1390.8 1607.5 1390.1C1609.3 1389.3 1612.5 1389.5 1614.4 1390.1C1616.4 1390.6 1618.3 1391.6 1619.1 1393.2C1619.9 1394.7 1619.9 1397.7 1619.1 1399.4C1618.3 1401.1 1616.4 1402.0 1614.4 1403.3C1612.5 1404.6 1609.3 1405.5 1607.5 1407.1C1605.6 1408.8 1605.0 1410.5 1603.6 1413.4C1602.2 1416.2 1600.3 1420.3 1598.9 1424.2C1597.5 1428.1 1596.1 1432.8 1595.0 1436.6C1594.0 1440.5 1592.8 1444.2 1592.7 1447.5C1592.6 1450.9 1593.5 1453.5 1594.3 1456.8C1595.0 1460.2 1595.8 1464.3 1597.4 1467.7C1598.9 1471.1 1601.4 1474.3 1603.6 1477.0C1605.8 1479.7 1608.8 1483.2 1610.6 1484.0C1612.4 1484.8 1613.7 1483.4 1614.4 1481.7C1615.2 1480.0 1615.5 1476.5 1615.2 1473.9C1615.0 1471.3 1613.5 1469.0 1612.9 1466.1C1612.2 1463.3 1611.2 1459.9 1611.3 1456.8C1611.5 1453.7 1612.4 1450.1 1613.7 1447.5C1615.0 1444.9 1616.9 1443.0 1619.1 1441.3C1621.3 1439.6 1624.0 1438.1 1626.9 1437.4C1629.7 1436.8 1633.3 1436.8 1636.2 1437.4C1639.0 1438.1 1641.9 1439.4 1644.0 1441.3C1646.0 1443.2 1647.7 1445.7 1648.6 1449.1C1649.5 1452.4 1649.1 1457.9 1649.4 1461.5C1649.6 1465.1 1649.6 1470.8 1650.2 1470.8C1650.7 1470.8 1651.6 1465.1 1652.5 1461.5C1653.4 1457.9 1654.4 1452.7 1655.6 1449.1C1656.8 1445.4 1657.8 1443.4 1659.5 1439.8C1661.2 1436.1 1663.4 1431.7 1665.7 1427.3C1668.0 1422.9 1670.6 1418.0 1673.5 1413.4C1676.3 1408.7 1679.9 1403.5 1682.8 1399.4C1685.6 1395.2 1688.1 1391.6 1690.5 1388.5C1693.0 1385.4 1696.0 1383.2 1697.5 1380.7C1699.1 1378.3 1698.4 1375.6 1699.9 1373.8C1701.3 1371.9 1703.9 1370.3 1706.1 1369.9C1708.3 1369.5 1711.5 1370.1 1713.0 1371.4C1714.6 1372.7 1715.4 1375.7 1715.4 1377.6C1715.4 1379.6 1714.6 1381.7 1713.0 1383.1C1711.5 1384.5 1708.4 1385.5 1706.1 1386.2C1703.7 1386.8 1701.1 1385.3 1699.1 1387.0C1697.0 1388.6 1695.6 1392.7 1693.6 1396.3C1691.7 1399.9 1689.5 1404.0 1687.4 1408.7C1685.4 1413.4 1682.9 1419.6 1681.2 1424.2C1679.5 1428.9 1678.2 1432.5 1677.3 1436.6C1676.4 1440.8 1676.0 1444.9 1675.8 1449.1C1675.5 1453.2 1675.5 1459.7 1675.8 1461.5C1676.0 1463.3 1676.9 1462.3 1677.3 1459.9C1677.7 1457.6 1677.5 1451.4 1678.1 1447.5C1678.8 1443.6 1679.7 1439.8 1681.2 1436.6C1682.8 1433.5 1684.8 1431.0 1687.4 1428.9C1690.0 1426.8 1693.6 1425.0 1696.7 1424.2C1699.9 1423.4 1703.1 1423.4 1706.1 1424.2C1709.0 1425.0 1712.4 1426.8 1714.6 1428.9C1716.8 1431.0 1718.4 1433.8 1719.3 1436.6C1720.2 1439.5 1720.4 1442.9 1720.0 1446.0C1719.6 1449.1 1718.2 1452.4 1716.9 1455.3C1715.6 1458.1 1714.3 1460.5 1712.3 1463.0C1710.2 1465.6 1706.7 1468.2 1704.5 1470.8C1702.3 1473.4 1699.3 1476.2 1699.1 1478.6C1698.8 1480.9 1701.5 1483.9 1703.0 1484.8C1704.4 1485.7 1705.3 1484.7 1707.6 1484.0C1709.9 1483.4 1713.8 1482.1 1716.9 1480.9C1720.0 1479.7 1723.4 1478.3 1726.2 1477.0C1729.1 1475.7 1731.9 1474.7 1734.0 1473.1C1736.1 1471.6 1738.3 1469.6 1738.7 1467.7C1739.1 1465.8 1737.0 1464.1 1736.3 1461.5C1735.7 1458.9 1734.9 1455.5 1734.8 1452.2C1734.7 1448.8 1734.8 1444.7 1735.6 1441.3C1736.3 1437.9 1737.6 1434.6 1739.4 1432.0C1741.3 1429.4 1743.7 1427.2 1746.4 1425.8C1749.2 1424.4 1752.6 1423.6 1755.8 1423.4C1758.9 1423.3 1762.2 1423.8 1765.1 1425.0C1767.9 1426.2 1770.8 1428.2 1772.8 1430.4C1774.9 1432.6 1775.9 1437.4 1777.5 1438.2C1779.0 1439.0 1780.5 1436.4 1782.1 1435.1C1783.8 1433.8 1786.3 1432.5 1787.6 1430.4C1788.9 1428.4 1788.7 1425.5 1789.9 1422.7C1791.1 1419.8 1793.1 1416.2 1794.6 1413.4C1796.0 1410.5 1796.8 1407.8 1798.5 1405.6C1800.1 1403.4 1802.6 1401.2 1804.7 1400.2C1806.7 1399.1 1810.1 1398.7 1810.9 1399.4C1811.7 1400.0 1809.3 1402.4 1809.3 1404.0C1809.3 1405.7 1809.5 1408.4 1810.9 1409.5C1812.3 1410.5 1815.5 1409.2 1817.9 1410.2C1820.2 1411.3 1823.0 1413.4 1824.9 1415.7C1826.7 1418.0 1828.0 1421.0 1828.7 1424.2C1829.5 1427.5 1829.9 1431.5 1829.5 1435.1C1829.1 1438.7 1827.7 1442.6 1826.4 1446.0C1825.1 1449.3 1822.8 1452.7 1821.7 1455.3C1820.7 1457.9 1819.8 1460.2 1820.2 1461.5C1820.6 1462.8 1822.5 1462.7 1824.1 1463.0C1825.6 1463.4 1828.3 1464.6 1829.5 1463.8C1830.7 1463.0 1830.3 1460.2 1831.1 1458.4C1831.8 1456.6 1832.7 1453.5 1834.2 1453.0C1835.6 1452.4 1837.8 1454.1 1839.6 1455.3C1841.4 1456.4 1843.7 1459.9 1845.0 1459.9C1846.3 1459.9 1846.6 1457.9 1847.4 1455.3C1848.1 1452.7 1848.7 1448.0 1849.7 1444.4C1850.7 1440.8 1851.9 1436.5 1853.6 1433.5C1855.3 1430.6 1857.7 1428.1 1859.8 1426.6C1861.9 1425.0 1863.5 1424.7 1866.0 1424.2C1868.5 1423.7 1871.4 1423.3 1874.7 1423.4C1878.0 1423.6 1882.5 1424.9 1885.6 1425.0C1888.7 1425.1 1891.3 1425.1 1893.3 1424.2C1895.4 1423.3 1896.4 1422.2 1898.0 1419.6C1899.5 1417.0 1901.1 1412.1 1902.6 1408.7C1904.2 1405.3 1906.0 1402.7 1907.3 1399.4C1908.6 1396.0 1910.3 1391.1 1910.4 1388.5C1910.5 1385.9 1908.1 1385.7 1908.1 1383.9C1908.1 1382.0 1908.7 1379.2 1910.4 1377.6C1912.1 1376.1 1915.8 1374.5 1918.2 1374.5C1920.5 1374.5 1922.3 1375.6 1924.4 1377.6C1926.5 1379.7 1929.8 1384.6 1930.6 1387.0C1931.4 1389.3 1928.8 1390.1 1929.0 1391.6C1929.3 1393.2 1930.6 1393.4 1932.1 1396.3C1933.7 1399.1 1936.0 1404.0 1938.4 1408.7C1940.7 1413.4 1944.1 1419.0 1946.1 1424.2C1948.2 1429.4 1949.5 1437.7 1950.8 1439.8C1952.1 1441.8 1952.9 1438.5 1953.9 1436.6C1954.9 1434.8 1955.2 1431.2 1957.0 1428.9C1958.8 1426.6 1961.9 1424.0 1964.8 1422.7C1967.6 1421.4 1971.2 1421.4 1974.1 1421.1C1976.9 1420.9 1980.2 1423.2 1981.8 1421.1C1983.5 1419.0 1983.4 1413.4 1984.2 1408.7C1984.9 1404.0 1986.1 1397.6 1986.5 1393.2C1986.9 1388.8 1986.0 1384.9 1986.5 1382.3C1987.0 1379.7 1987.5 1378.7 1989.6 1377.6C1991.7 1376.6 1996.6 1377.1 1998.9 1376.1C2001.2 1375.1 2001.1 1372.1 2003.6 1371.4C2006.0 1370.8 2011.3 1371.4 2013.7 1372.2C2016.0 1373.0 2016.9 1374.1 2017.6 1376.1C2018.2 1378.0 2016.8 1381.3 2017.6 1383.9C2018.3 1386.4 2020.4 1388.5 2022.2 1391.6C2024.0 1394.7 2026.4 1398.6 2028.4 1402.5C2030.5 1406.4 2032.6 1411.0 2034.6 1414.9C2036.7 1418.8 2039.7 1422.4 2040.8 1425.8C2042.0 1429.1 2040.8 1433.0 2041.6 1435.1C2042.4 1437.2 2044.1 1436.9 2045.5 1438.2C2046.9 1439.5 2048.9 1440.5 2050.2 1442.9C2051.5 1445.2 2053.0 1448.8 2053.3 1452.2C2053.5 1455.5 2052.5 1459.9 2051.7 1463.0C2050.9 1466.1 2049.6 1468.2 2048.6 1470.8C2047.6 1473.4 2045.5 1476.6 2045.5 1478.6C2045.5 1480.5 2047.3 1482.5 2048.6 1482.5C2049.9 1482.5 2050.9 1480.3 2053.3 1478.6C2055.6 1476.9 2059.7 1474.7 2062.6 1472.4C2065.4 1470.0 2068.4 1467.2 2070.3 1464.6C2072.3 1462.0 2074.0 1458.9 2074.2 1456.8C2074.5 1454.8 2073.1 1454.0 2071.9 1452.2C2070.7 1450.4 2068.5 1448.8 2067.2 1446.0C2065.9 1443.1 2064.4 1438.7 2064.1 1435.1C2063.9 1431.5 2064.4 1427.5 2065.7 1424.2C2067.0 1421.0 2069.6 1417.9 2071.9 1415.7C2074.2 1413.5 2077.1 1411.9 2079.7 1411.0C2082.3 1410.1 2086.1 1411.4 2087.4 1410.2C2088.7 1409.1 2087.9 1405.8 2087.4 1404.0C2086.9 1402.2 2085.6 1400.9 2084.3 1399.4C2083.0 1397.8 2080.3 1396.5 2079.7 1394.7C2079.0 1392.9 2079.1 1390.2 2080.4 1388.5C2081.7 1386.8 2085.2 1384.8 2087.4 1384.6C2089.6 1384.5 2092.1 1386.3 2093.6 1387.7C2095.2 1389.2 2096.4 1390.2 2096.7 1393.2C2097.1 1396.1 2096.1 1402.0 2096.0 1405.6C2095.8 1409.2 2095.1 1413.1 2096.0 1414.9C2096.9 1416.7 2099.6 1414.9 2101.4 1416.5C2103.2 1418.0 2105.5 1420.6 2106.8 1424.2C2108.1 1427.8 2109.2 1434.3 2109.2 1438.2C2109.2 1442.1 2107.1 1444.7 2106.8 1447.5C2106.6 1450.4 2106.7 1453.2 2107.6 1455.3C2108.5 1457.3 2110.2 1458.8 2112.3 1459.9C2114.3 1461.1 2117.7 1462.0 2120.0 1462.3C2122.4 1462.5 2125.5 1463.2 2126.2 1461.5C2127.0 1459.8 2125.3 1455.8 2124.7 1452.2C2124.0 1448.6 2123.1 1444.4 2122.4 1439.8C2121.6 1435.1 2120.6 1429.4 2120.0 1424.2C2119.5 1419.0 2119.3 1413.4 2119.3 1408.7C2119.3 1404.0 2119.8 1399.6 2120.0 1396.3C2120.3 1392.9 2119.8 1390.5 2120.8 1388.5C2121.8 1386.6 2124.3 1385.1 2126.2 1384.6C2128.2 1384.1 2130.8 1384.5 2132.5 1385.4C2134.1 1386.3 2135.8 1388.3 2136.3 1390.1C2136.9 1391.9 2136.3 1394.5 2135.6 1396.3C2134.8 1398.1 2132.5 1398.9 2131.7 1400.9C2130.9 1403.0 2130.8 1405.3 2130.9 1408.7C2131.0 1412.1 2131.9 1416.5 2132.5 1421.1C2133.0 1425.8 2133.2 1432.0 2134.0 1436.6C2134.8 1441.3 2135.8 1445.4 2137.1 1449.1C2138.4 1452.7 2140.2 1456.4 2141.8 1458.4C2143.3 1460.3 2143.8 1460.2 2146.4 1460.7C2149.0 1461.2 2154.3 1461.5 2157.3 1461.5C2160.3 1461.5 2163.0 1462.8 2164.3 1460.7C2165.6 1458.6 2165.1 1452.6 2165.1 1449.1C2165.1 1445.6 2164.8 1442.3 2164.3 1439.8C2163.8 1437.2 2163.1 1435.4 2162.0 1433.5C2160.8 1431.7 2159.0 1430.7 2157.3 1428.9C2155.6 1427.1 2152.9 1425.0 2151.9 1422.7C2150.8 1420.3 2151.6 1417.1 2151.1 1414.9C2150.6 1412.7 2148.0 1410.5 2148.8 1409.5C2149.5 1408.4 2153.6 1408.6 2155.8 1408.7C2158.0 1408.8 2161.1 1409.0 2162.0 1410.2C2162.9 1411.5 2160.9 1414.4 2161.2 1416.5C2161.4 1418.5 2162.2 1420.1 2163.5 1422.7C2164.8 1425.3 2167.4 1429.5 2169.0 1432.0C2170.5 1434.4 2170.6 1436.6 2172.8 1437.4C2175.0 1438.2 2179.3 1437.0 2182.1 1436.6C2185.0 1436.3 2188.4 1436.4 2189.9 1435.1C2191.5 1433.8 2190.4 1431.7 2191.5 1428.9C2192.5 1426.0 2194.3 1421.6 2196.1 1418.0C2197.9 1414.4 2200.4 1410.8 2202.3 1407.1C2204.3 1403.5 2206.2 1399.9 2207.8 1396.3C2209.3 1392.7 2210.6 1388.5 2211.7 1385.4C2212.7 1382.3 2212.9 1380.0 2214.0 1377.6C2215.0 1375.3 2215.7 1372.3 2217.9 1371.4C2220.1 1370.5 2224.7 1371.4 2227.2 1372.2C2229.6 1373.0 2231.6 1374.1 2232.6 1376.1C2233.7 1378.0 2233.9 1381.8 2233.4 1383.9C2232.9 1385.9 2229.9 1385.4 2229.5 1388.5C2229.1 1391.6 2230.4 1397.6 2231.1 1402.5C2231.7 1407.4 2232.7 1413.1 2233.4 1418.0C2234.0 1422.9 2234.8 1427.1 2234.9 1432.0C2235.1 1436.9 2234.2 1442.6 2234.2 1447.5C2234.2 1452.4 2234.2 1458.1 2234.9 1461.5C2235.7 1464.9 2237.3 1466.5 2238.8 1467.7C2240.4 1468.9 2243.1 1469.0 2244.3 1468.5C2245.4 1468.0 2246.1 1466.5 2245.8 1464.6C2245.6 1462.7 2243.7 1459.4 2242.7 1456.8C2241.7 1454.2 2240.0 1452.2 2239.6 1449.1C2239.2 1446.0 2239.6 1441.6 2240.4 1438.2C2241.2 1434.8 2242.6 1431.3 2244.3 1428.9C2245.9 1426.4 2248.1 1424.7 2250.5 1423.4C2252.8 1422.2 2255.6 1421.2 2258.2 1421.1C2260.8 1421.0 2263.5 1421.8 2266.0 1422.7C2268.5 1423.6 2271.2 1424.7 2273.1 1426.6C2275.1 1428.4 2276.8 1430.6 2277.8 1433.5C2278.8 1436.5 2279.6 1441.0 2279.4 1444.4C2279.1 1447.8 2277.7 1451.1 2276.2 1453.7C2274.8 1456.3 2272.1 1457.9 2270.8 1459.9C2269.5 1462.0 2267.8 1464.6 2268.5 1466.1C2269.1 1467.7 2272.4 1469.1 2274.7 1469.3C2277.0 1469.4 2279.9 1468.2 2282.5 1466.9C2285.0 1465.6 2289.6 1463.7 2290.2 1461.5C2290.9 1459.3 2287.5 1456.3 2286.3 1453.7C2285.2 1451.1 2283.6 1448.8 2283.2 1446.0C2282.8 1443.1 2283.1 1439.5 2284.0 1436.6C2284.9 1433.8 2286.6 1431.0 2288.7 1428.9C2290.7 1426.8 2293.6 1425.1 2296.4 1424.2C2299.3 1423.4 2302.6 1423.2 2305.8 1423.8C2308.9 1424.3 2312.6 1425.7 2315.1 1427.3C2317.5 1429.0 2320.2 1434.1 2320.5 1433.5C2320.8 1433.0 2318.0 1427.8 2316.6 1424.2C2315.2 1420.6 2313.8 1415.9 2312.0 1411.8C2310.2 1407.7 2307.6 1403.3 2305.8 1399.4C2303.9 1395.5 2302.9 1390.7 2301.1 1388.5C2299.3 1386.3 2297.0 1387.1 2294.9 1386.2C2292.8 1385.3 2290.1 1384.5 2288.7 1383.1C2287.2 1381.7 2286.3 1379.3 2286.3 1377.6C2286.3 1376.0 2287.2 1374.1 2288.7 1373.0C2290.1 1371.8 2292.8 1370.7 2294.9 1370.7C2297.0 1370.7 2299.5 1371.7 2301.1 1373.0C2302.6 1374.3 2302.4 1377.4 2304.2 1378.4C2306.0 1379.5 2309.6 1378.5 2312.0 1379.2C2314.3 1379.8 2316.9 1381.0 2318.2 1382.3C2319.5 1383.6 2318.7 1384.1 2319.7 1387.0C2320.8 1389.8 2322.3 1394.7 2324.4 1399.4C2326.5 1404.0 2329.8 1409.9 2332.1 1414.9C2334.5 1420.0 2336.5 1427.8 2338.4 1429.7C2340.2 1431.5 2340.7 1426.8 2343.0 1425.8C2345.3 1424.7 2349.5 1423.7 2352.3 1423.4C2355.2 1423.2 2357.8 1424.1 2360.1 1424.2C2362.4 1424.4 2364.5 1425.8 2366.3 1424.2C2368.1 1422.7 2368.9 1418.3 2371.0 1414.9C2373.0 1411.5 2375.9 1407.7 2378.7 1404.0C2381.6 1400.4 2385.3 1396.0 2388.0 1393.2C2390.8 1390.3 2393.5 1389.3 2395.0 1387.0C2396.6 1384.6 2396.2 1380.9 2397.4 1379.2C2398.5 1377.5 2400.0 1377.3 2402.0 1376.9C2404.1 1376.5 2407.7 1376.6 2409.8 1376.9C2411.9 1377.1 2414.1 1377.8 2414.4 1378.4C2414.8 1379.1 2412.6 1379.5 2412.1 1380.7C2411.6 1382.0 2412.0 1384.4 2411.3 1386.2C2410.7 1388.0 2410.3 1390.5 2408.2 1391.6C2406.2 1392.8 2401.5 1391.9 2398.9 1393.2C2396.3 1394.5 2394.5 1397.0 2392.7 1399.4C2390.9 1401.7 2388.8 1404.9 2388.0 1407.1C2387.3 1409.3 2387.0 1411.8 2388.0 1412.6C2389.1 1413.4 2391.9 1411.5 2394.3 1411.8C2396.6 1412.1 2399.7 1412.8 2402.0 1414.1C2404.4 1415.4 2406.7 1417.9 2408.2 1419.6C2409.8 1421.2 2409.8 1423.1 2411.3 1424.2C2412.9 1425.4 2416.5 1425.8 2417.6 1426.6C2418.6 1427.3 2417.8 1427.2 2417.6 1428.9C2417.3 1430.6 2417.0 1434.3 2416.0 1436.6C2415.0 1439.0 2413.4 1441.3 2411.3 1442.9C2409.3 1444.4 2404.1 1444.7 2403.6 1446.0C2403.1 1447.3 2406.4 1448.9 2408.2 1450.6C2410.0 1452.3 2411.9 1454.5 2414.4 1456.1C2417.0 1457.6 2420.1 1459.2 2423.8 1459.9C2427.4 1460.7 2432.6 1460.7 2436.2 1460.7C2439.8 1460.7 2444.5 1461.1 2445.5 1459.9C2446.5 1458.8 2444.0 1456.3 2442.4 1453.7C2440.8 1451.1 2438.3 1447.5 2436.2 1444.4C2434.1 1441.3 2432.0 1438.2 2430.0 1435.1C2427.9 1432.0 2425.6 1428.6 2423.8 1425.8C2422.0 1422.9 2420.1 1420.9 2419.1 1418.0C2418.1 1415.2 2418.1 1411.5 2417.6 1408.7C2417.0 1405.8 2415.7 1402.6 2415.7 1400.9C2415.7 1399.2 2416.2 1398.5 2417.6 1398.6C2418.9 1398.7 2421.8 1400.3 2423.8 1401.7C2425.7 1403.1 2427.9 1404.9 2429.2 1407.1C2430.5 1409.3 2430.9 1412.3 2431.5 1414.9C2432.2 1417.5 2431.5 1420.3 2433.1 1422.7C2434.6 1425.0 2438.3 1426.6 2440.8 1428.9C2443.4 1431.2 2445.9 1433.4 2448.6 1436.6C2451.3 1439.9 2455.6 1446.7 2457.1 1448.3C2458.7 1449.8 2457.3 1447.9 2457.9 1446.0C2458.6 1444.0 2459.5 1439.2 2461.0 1436.6C2462.6 1434.1 2464.9 1432.1 2467.2 1430.4C2469.6 1428.8 2472.4 1427.2 2475.0 1426.6C2477.6 1425.9 2480.2 1426.0 2482.8 1426.6C2485.4 1427.1 2488.5 1428.2 2490.5 1429.7C2492.6 1431.1 2494.3 1434.7 2495.2 1435.1C2496.1 1435.5 2495.7 1434.8 2496.0 1432.0C2496.2 1429.1 2496.4 1422.4 2496.7 1418.0C2497.1 1413.6 2497.5 1409.7 2498.3 1405.6C2499.1 1401.4 2500.4 1396.8 2501.4 1393.2C2502.4 1389.5 2503.9 1386.7 2504.5 1383.9C2505.2 1381.0 2504.9 1378.4 2505.3 1376.1C2505.7 1373.8 2505.5 1371.2 2506.8 1369.9C2508.1 1368.6 2510.7 1368.5 2513.0 1368.3C2515.4 1368.2 2518.9 1368.3 2520.8 1369.1C2522.8 1369.9 2524.2 1371.4 2524.7 1373.0C2525.2 1374.5 2524.7 1376.9 2523.9 1378.4C2523.1 1380.0 2521.6 1380.9 2520.0 1382.3C2518.5 1383.7 2515.8 1385.1 2514.6 1387.0C2513.4 1388.8 2513.6 1389.5 2513.0 1393.2C2512.5 1396.8 2512.0 1403.0 2511.5 1408.7C2511.0 1414.4 2510.1 1422.2 2509.9 1427.3C2509.8 1432.5 2509.9 1436.6 2510.7 1439.8C2511.5 1442.9 2513.0 1443.6 2514.6 1446.0C2516.2 1448.3 2518.1 1450.9 2520.0 1453.7C2522.0 1456.6 2524.2 1460.1 2526.2 1463.0C2528.3 1466.0 2531.4 1472.9 2532.5 1471.6C2533.5 1470.3 2533.0 1458.6 2532.5 1455.3C2531.9 1451.9 2530.3 1453.0 2529.4 1451.4C2528.4 1449.8 2526.8 1447.8 2527.0 1446.0C2527.3 1444.2 2529.7 1442.0 2530.9 1440.5C2532.1 1439.1 2532.2 1437.4 2534.0 1437.4C2535.8 1437.4 2539.4 1440.1 2541.8 1440.5C2544.1 1440.9 2545.7 1440.8 2548.0 1439.8C2550.3 1438.7 2552.9 1435.5 2555.8 1434.3C2558.6 1433.2 2562.0 1432.4 2565.1 1432.8C2568.2 1433.2 2571.7 1434.7 2574.4 1436.6C2577.1 1438.6 2579.8 1441.3 2581.4 1444.4C2582.9 1447.5 2583.6 1451.9 2583.7 1455.3C2583.8 1458.6 2583.2 1461.5 2582.1 1464.6C2581.1 1467.7 2579.2 1470.8 2577.5 1473.9C2575.8 1477.0 2572.8 1480.8 2572.1 1483.2C2571.3 1485.7 2571.9 1487.1 2572.8 1488.7C2573.7 1490.2 2576.1 1492.7 2577.5 1492.5C2578.9 1492.4 2579.6 1489.4 2581.4 1487.9C2583.2 1486.3 2585.9 1484.8 2588.4 1483.2C2590.8 1481.7 2593.5 1480.3 2596.1 1478.6C2598.7 1476.9 2601.9 1474.9 2603.9 1473.1C2605.8 1471.3 2607.6 1469.5 2607.8 1467.7C2607.9 1465.9 2606.3 1464.1 2604.7 1462.3C2603.0 1460.5 2599.6 1459.3 2597.7 1456.8C2595.7 1454.4 2593.9 1451.1 2593.0 1447.5C2592.1 1443.9 2591.7 1439.0 2592.2 1435.1C2592.8 1431.2 2594.2 1427.3 2596.1 1424.2C2598.1 1421.1 2601.0 1418.2 2603.9 1416.5C2606.7 1414.7 2610.4 1413.9 2613.2 1413.8C2616.1 1413.7 2618.4 1414.2 2621.0 1415.7C2623.6 1417.2 2626.7 1419.7 2628.7 1422.7C2630.8 1425.6 2632.5 1429.9 2633.4 1433.5C2634.3 1437.2 2634.3 1441.0 2634.2 1444.4C2634.0 1447.8 2633.1 1451.1 2632.6 1453.7C2632.1 1456.3 2630.7 1458.1 2631.1 1459.9C2631.5 1461.7 2633.0 1463.0 2634.9 1464.6C2636.9 1466.1 2640.1 1468.0 2642.7 1469.3C2645.3 1470.5 2648.1 1472.0 2650.5 1472.4C2652.8 1472.7 2655.1 1472.5 2656.7 1471.6C2658.2 1470.7 2659.7 1468.6 2659.8 1466.9C2659.9 1465.2 2658.8 1463.4 2657.5 1461.5C2656.2 1459.5 2653.7 1458.1 2652.0 1455.3C2650.3 1452.4 2648.3 1448.3 2647.4 1444.4C2646.5 1440.5 2645.9 1435.9 2646.6 1432.0C2647.2 1428.1 2649.3 1424.1 2651.2 1421.1C2653.2 1418.1 2655.8 1415.6 2658.2 1414.1C2660.7 1412.7 2664.7 1412.8 2666.0 1412.6L2667 1412.6L2667 1500L0 1500L0 1412.6ZM153.0 1494.9C153.0 1492.9 159.2 1483.6 161.5 1477.0C163.8 1470.4 165.4 1457.3 166.9 1455.3C168.5 1453.2 168.9 1461.5 170.8 1464.6C172.7 1467.7 176.1 1471.2 178.6 1473.9C181.0 1476.6 186.9 1479.2 185.6 1480.9C184.3 1482.6 174.8 1482.7 170.8 1484.0C166.8 1485.3 164.5 1486.9 161.5 1488.7C158.5 1490.5 153.0 1496.8 153.0 1494.9ZM2513.0 1494.9C2513.0 1492.9 2506.8 1483.6 2504.5 1477.0C2502.2 1470.4 2500.6 1457.3 2499.1 1455.3C2497.5 1453.2 2497.1 1461.5 2495.2 1464.6C2493.3 1467.7 2489.9 1471.2 2487.4 1473.9C2485.0 1476.6 2479.1 1479.2 2480.4 1480.9C2481.7 1482.6 2491.2 1482.7 2495.2 1484.0C2499.2 1485.3 2501.5 1486.9 2504.5 1488.7C2507.5 1490.5 2513.0 1496.8 2513.0 1494.9ZM118.0 1471.6C118.5 1470.3 120.6 1470.3 121.1 1471.6C121.6 1472.9 121.6 1478.1 121.1 1479.3C120.6 1480.6 118.5 1480.6 118.0 1479.3C117.5 1478.1 117.5 1472.9 118.0 1471.6ZM2548.0 1471.6C2547.5 1470.3 2545.4 1470.3 2544.9 1471.6C2544.4 1472.9 2544.4 1478.1 2544.9 1479.3C2545.4 1480.6 2547.5 1480.6 2548.0 1479.3C2548.5 1478.1 2548.5 1472.9 2548.0 1471.6ZM446.6 1390.1C447.6 1390.1 449.7 1400.4 451.2 1405.6C452.8 1410.8 454.6 1415.9 455.9 1421.1C457.2 1426.3 459.3 1433.0 459.0 1436.6C458.7 1440.3 456.2 1440.5 454.3 1442.9C452.5 1445.2 449.7 1451.1 448.1 1450.6C446.6 1450.1 445.7 1444.2 445.0 1439.8C444.4 1435.4 444.3 1429.9 444.3 1424.2C444.3 1418.5 444.6 1411.3 445.0 1405.6C445.4 1399.9 445.5 1390.1 446.6 1390.1ZM2219.4 1390.1C2218.4 1390.1 2216.3 1400.4 2214.8 1405.6C2213.2 1410.8 2211.4 1415.9 2210.1 1421.1C2208.8 1426.3 2206.7 1433.0 2207.0 1436.6C2207.3 1440.3 2209.8 1440.5 2211.7 1442.9C2213.5 1445.2 2216.3 1451.1 2217.9 1450.6C2219.4 1450.1 2220.3 1444.2 2221.0 1439.8C2221.6 1435.4 2221.7 1429.9 2221.7 1424.2C2221.7 1418.5 2221.4 1411.3 2221.0 1405.6C2220.6 1399.9 2220.5 1390.1 2219.4 1390.1ZM460.6 1472.4C460.4 1469.8 464.3 1464.9 466.0 1466.1C467.7 1467.4 470.5 1477.5 470.7 1480.1C470.8 1482.7 468.5 1483.0 466.8 1481.7C465.1 1480.4 460.7 1474.9 460.6 1472.4ZM2205.4 1472.4C2205.6 1469.8 2201.7 1464.9 2200.0 1466.1C2198.3 1467.4 2195.5 1477.5 2195.3 1480.1C2195.2 1482.7 2197.5 1483.0 2199.2 1481.7C2200.9 1480.4 2205.3 1474.9 2205.4 1472.4ZM656.2 1387.0C658.0 1385.7 661.6 1388.0 664.0 1390.1C666.3 1392.1 669.0 1394.7 670.2 1399.4C671.4 1404.0 671.0 1411.8 671.0 1418.0C671.0 1424.2 670.8 1431.0 670.2 1436.6C669.5 1442.3 668.4 1448.3 667.1 1452.2C665.8 1456.1 664.5 1459.7 662.4 1459.9C660.4 1460.2 656.7 1455.8 654.7 1453.7C652.6 1451.7 650.4 1450.6 650.0 1447.5C649.6 1444.4 651.8 1438.5 652.3 1435.1C652.8 1431.7 654.5 1428.9 653.1 1427.3C651.7 1425.8 644.6 1428.4 643.8 1425.8C643.0 1423.2 646.9 1416.5 648.4 1411.8C650.0 1407.1 651.8 1402.0 653.1 1397.8C654.4 1393.7 654.4 1388.3 656.2 1387.0ZM2009.8 1387.0C2008.0 1385.7 2004.4 1388.0 2002.0 1390.1C1999.7 1392.1 1997.0 1394.7 1995.8 1399.4C1994.6 1404.0 1995.0 1411.8 1995.0 1418.0C1995.0 1424.2 1995.2 1431.0 1995.8 1436.6C1996.5 1442.3 1997.6 1448.3 1998.9 1452.2C2000.2 1456.1 2001.5 1459.7 2003.6 1459.9C2005.6 1460.2 2009.3 1455.8 2011.3 1453.7C2013.4 1451.7 2015.6 1450.6 2016.0 1447.5C2016.4 1444.4 2014.2 1438.5 2013.7 1435.1C2013.2 1431.7 2011.5 1428.9 2012.9 1427.3C2014.3 1425.8 2021.4 1428.4 2022.2 1425.8C2023.0 1423.2 2019.1 1416.5 2017.6 1411.8C2016.0 1407.1 2014.2 1402.0 2012.9 1397.8C2011.6 1393.7 2011.6 1388.3 2009.8 1387.0ZM744.7 1396.3C746.5 1395.8 747.6 1401.4 749.4 1405.6C751.2 1409.7 754.8 1417.2 755.6 1421.1C756.4 1425.0 755.3 1425.8 754.0 1428.9C752.7 1432.0 748.9 1436.6 747.8 1439.8C746.8 1442.9 749.4 1444.9 747.8 1447.5C746.3 1450.1 740.8 1453.7 738.5 1455.3C736.2 1456.8 734.9 1458.1 733.9 1456.8C732.8 1455.5 732.9 1450.9 732.3 1447.5C731.7 1444.2 729.7 1441.0 730.0 1436.6C730.2 1432.2 732.4 1425.8 733.9 1421.1C735.3 1416.5 736.7 1412.8 738.5 1408.7C740.3 1404.6 742.9 1396.8 744.7 1396.3ZM1921.3 1396.3C1919.5 1395.8 1918.4 1401.4 1916.6 1405.6C1914.8 1409.7 1911.2 1417.2 1910.4 1421.1C1909.6 1425.0 1910.7 1425.8 1912.0 1428.9C1913.3 1432.0 1917.1 1436.6 1918.2 1439.8C1919.2 1442.9 1916.6 1444.9 1918.2 1447.5C1919.7 1450.1 1925.2 1453.7 1927.5 1455.3C1929.8 1456.8 1931.1 1458.1 1932.1 1456.8C1933.2 1455.5 1933.1 1450.9 1933.7 1447.5C1934.3 1444.2 1936.3 1441.0 1936.0 1436.6C1935.8 1432.2 1933.6 1425.8 1932.1 1421.1C1930.7 1416.5 1929.3 1412.8 1927.5 1408.7C1925.7 1404.6 1923.1 1396.8 1921.3 1396.3ZM705.1 1464.6C705.6 1462.5 708.9 1456.8 710.6 1456.8C712.2 1456.8 715.0 1462.5 715.2 1464.6C715.5 1466.7 713.4 1468.5 712.1 1469.3C710.8 1470.0 708.6 1470.0 707.5 1469.3C706.3 1468.5 704.6 1466.7 705.1 1464.6ZM1960.9 1464.6C1960.4 1462.5 1957.1 1456.8 1955.4 1456.8C1953.8 1456.8 1951.0 1462.5 1950.8 1464.6C1950.5 1466.7 1952.6 1468.5 1953.9 1469.3C1955.2 1470.0 1957.4 1470.0 1958.5 1469.3C1959.7 1468.5 1961.4 1466.7 1960.9 1464.6ZM777.3 1467.7C777.8 1465.9 779.4 1465.4 782.0 1466.1C784.6 1466.9 790.0 1470.3 792.9 1472.4C795.7 1474.4 798.3 1476.2 799.1 1478.6C799.8 1480.9 799.3 1485.6 797.5 1486.3C795.7 1487.1 791.3 1484.8 788.2 1483.2C785.1 1481.7 780.7 1479.6 778.9 1477.0C777.1 1474.4 776.8 1469.5 777.3 1467.7ZM1888.7 1467.7C1888.2 1465.9 1886.6 1465.4 1884.0 1466.1C1881.4 1466.9 1876.0 1470.3 1873.1 1472.4C1870.3 1474.4 1867.7 1476.2 1866.9 1478.6C1866.2 1480.9 1866.7 1485.6 1868.5 1486.3C1870.3 1487.1 1874.7 1484.8 1877.8 1483.2C1880.9 1481.7 1885.3 1479.6 1887.1 1477.0C1888.9 1474.4 1889.2 1469.5 1888.7 1467.7ZM870.7 1459.9C869.6 1457.6 875.4 1445.3 877.6 1445.2C879.8 1445.1 885.0 1456.7 883.9 1459.2C882.7 1461.6 871.7 1462.3 870.7 1459.9ZM1795.3 1459.9C1796.4 1457.6 1790.6 1445.3 1788.4 1445.2C1786.2 1445.1 1781.0 1456.7 1782.1 1459.2C1783.3 1461.6 1794.3 1462.3 1795.3 1459.9ZM1137.0 1466.1C1137.7 1464.2 1144.3 1457.6 1146.3 1456.8C1148.2 1456.1 1148.3 1459.7 1148.6 1461.5C1148.9 1463.3 1149.0 1466.5 1147.8 1467.7C1146.7 1468.9 1143.4 1468.7 1141.6 1468.5C1139.8 1468.2 1136.2 1468.1 1137.0 1466.1ZM1529.0 1466.1C1528.3 1464.2 1521.7 1457.6 1519.7 1456.8C1517.8 1456.1 1517.7 1459.7 1517.4 1461.5C1517.1 1463.3 1517.0 1466.5 1518.2 1467.7C1519.3 1468.9 1522.6 1468.7 1524.4 1468.5C1526.2 1468.2 1529.8 1468.1 1529.0 1466.1ZM1152.5 1466.1C1153.5 1462.8 1159.0 1453.2 1161.8 1447.5C1164.6 1441.8 1167.8 1435.9 1169.6 1432.0C1171.4 1428.1 1172.3 1422.9 1172.7 1424.2C1173.1 1425.5 1172.7 1435.1 1171.9 1439.8C1171.1 1444.4 1170.0 1448.3 1168.0 1452.2C1166.1 1456.1 1162.3 1460.5 1160.2 1463.0C1158.2 1465.6 1156.9 1467.2 1155.6 1467.7C1154.3 1468.2 1151.4 1469.5 1152.5 1466.1ZM1176.6 1470.8C1176.7 1469.1 1179.4 1462.3 1180.4 1461.5C1181.5 1460.7 1182.9 1464.5 1182.8 1466.1C1182.6 1467.8 1180.7 1470.8 1179.7 1471.6C1178.6 1472.4 1176.4 1472.5 1176.6 1470.8ZM1187.1 1370.8C1190.0 1368.5 1196.4 1372.2 1201.8 1374.2C1207.1 1376.3 1213.3 1379.7 1219.0 1382.9C1224.8 1386.0 1231.1 1389.8 1236.3 1393.2C1241.5 1396.7 1246.1 1400.1 1250.1 1403.6C1254.1 1407.0 1257.3 1409.9 1260.4 1413.9C1263.6 1418.0 1266.5 1423.4 1269.1 1427.7C1271.7 1432.1 1274.2 1436.4 1276.0 1439.8C1277.7 1443.3 1279.1 1445.9 1279.4 1448.4C1279.7 1451.0 1279.1 1452.8 1277.7 1455.3C1276.3 1457.9 1273.4 1461.1 1270.8 1464.0C1268.2 1466.9 1264.8 1470.6 1262.2 1472.6C1259.6 1474.6 1257.0 1476.3 1255.3 1476.1C1253.5 1475.8 1252.1 1473.2 1251.8 1470.9C1251.5 1468.6 1253.0 1466.0 1253.5 1462.3C1254.1 1458.5 1255.3 1452.8 1255.3 1448.4C1255.3 1444.1 1253.5 1439.5 1253.5 1436.4C1253.5 1433.2 1255.8 1431.9 1255.3 1429.5C1254.7 1427.0 1252.1 1422.6 1250.1 1421.7C1248.1 1420.8 1246.1 1423.6 1243.2 1424.3C1240.3 1425.0 1235.7 1424.9 1232.8 1426.0C1230.0 1427.2 1228.2 1429.6 1225.9 1431.2C1223.6 1432.8 1220.8 1435.8 1219.0 1435.5C1217.3 1435.2 1217.3 1431.5 1215.6 1429.5C1213.8 1427.5 1211.5 1424.7 1208.7 1423.4C1205.8 1422.1 1201.5 1421.6 1198.3 1421.7C1195.2 1421.8 1192.0 1423.0 1189.7 1424.3C1187.4 1425.6 1185.8 1430.9 1184.5 1429.5C1183.2 1428.0 1182.2 1420.5 1181.9 1415.7C1181.6 1410.8 1182.4 1404.7 1182.8 1400.1C1183.2 1395.5 1183.8 1392.9 1184.5 1388.1C1185.2 1383.2 1184.2 1373.1 1187.1 1370.8ZM1205.2 1472.6C1204.9 1469.2 1210.4 1461.7 1213.8 1462.3C1217.3 1462.8 1224.2 1472.3 1225.9 1476.1C1227.7 1479.8 1225.9 1483.5 1224.2 1484.7C1222.5 1485.8 1218.7 1485.0 1215.6 1483.0C1212.4 1480.9 1205.5 1476.1 1205.2 1472.6ZM1296.7 1469.2C1296.0 1467.7 1297.4 1460.5 1298.4 1460.5C1299.4 1460.5 1303.0 1467.7 1302.7 1469.2C1302.4 1470.6 1297.4 1470.6 1296.7 1469.2ZM1424.4 1477.8C1424.2 1474.9 1428.5 1470.6 1429.6 1472.6C1430.6 1474.6 1431.3 1489.0 1430.4 1489.9C1429.6 1490.7 1424.5 1480.7 1424.4 1477.8Z"/>
<rect x="1499.3" y="1453" width="1" height="47" fill="#948a8a"/>
</g>
</svg>
</body>
</html>
